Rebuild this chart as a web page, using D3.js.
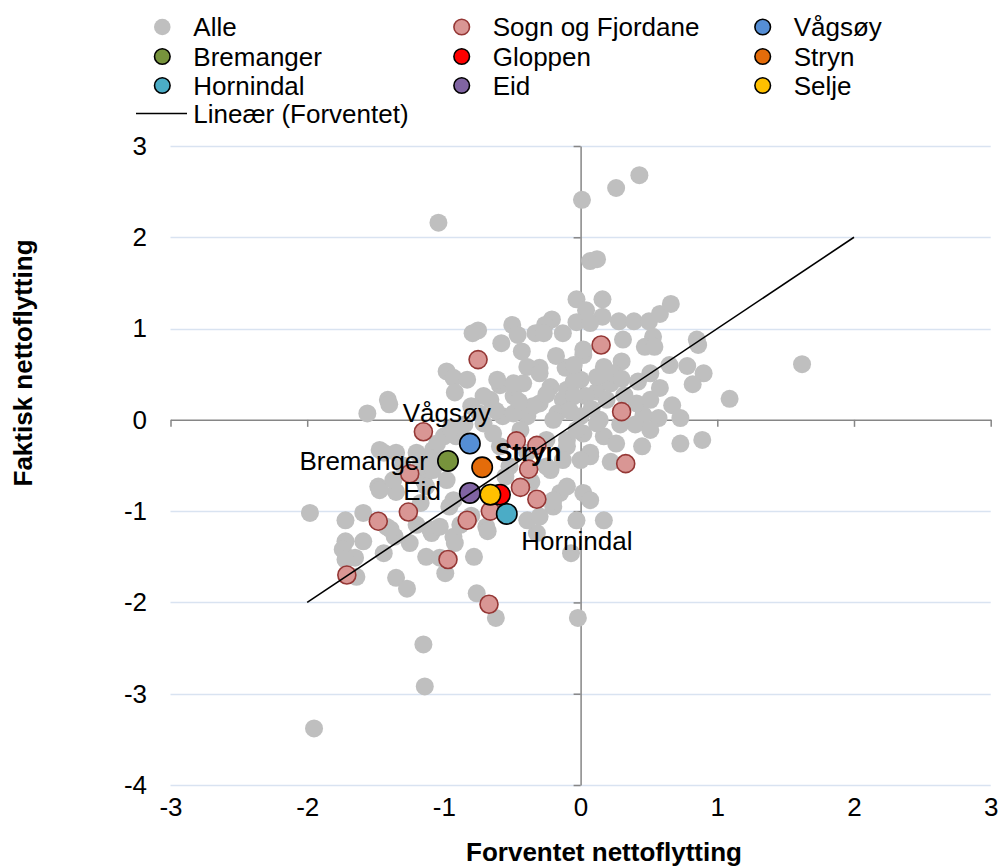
<!DOCTYPE html>
<html><head><meta charset="utf-8">
<script src="https://cdn.jsdelivr.net/npm/d3@7"></script>
<style>
body{margin:0;background:#fff;}
svg text{font-family:"Liberation Sans",Arial,sans-serif;fill:#000;}
</style></head><body>
<svg id="chart" width="998" height="866"></svg>
<script>
// ---- data ----
const allX = [-1.04,0.01,0.26,0.43,0.07,0.12,1.62,1.09,-1.95,-1.14,-1.15,-0.02,-0.62,-0.76,-1.98,-1.56,-1.41,-1.40,-0.98,-0.93,-0.07,
 -0.03,0.16,0.04,-0.03,0.16,0.28,0.39,0.50,0.58,0.66,0.53,-0.21,-0.26,-0.50,-0.33,-0.46,-0.75,-0.79,0.31,0.85,0.07,0.47,0.54,0.86,
 0.02,-0.11,0.17,0.30,0.65,0.78,0.90,0.82,0.51,0.42,0.58,0.67,0.73,0.57,0.46,0.40,0.41,0.12,0.22,0.00,-0.10,0.14,0.02,0.17,0.26,
 0.45,0.73,0.89,0.07,0.22,-0.10,-0.27,-0.58,-0.43,0.02,-0.30,-0.39,-0.83,-0.59,-0.42,-0.22,-0.05,0.12,0.24,-0.66,-0.49,-0.30,-0.13,
 0.04,0.19,-0.39,-0.17,0.00,0.12,-0.57,-0.71,-0.49,-0.20,-0.03,-0.10,0.07,0.51,-0.22,-0.15,0.02,0.07,-0.20,-0.03,0.17,-0.32,-1.10,
 -0.93,-0.78,-1.13,-0.69,-0.39,-1.44,-1.25,-0.99,-1.35,-1.27,-0.92,-1.72,-1.59,-1.74,-1.65,-1.72,-1.64,-1.36,-1.09,-1.03,-0.68,
 -1.44,-1.35,-1.48,-1.35,-1.20,-1.08,-1.00,-1.15,-1.72,-1.59,-1.42,-1.20,-1.03,-0.96,-0.13,-0.61,-0.49,-0.30,-0.71,-0.35,-0.05,
 -0.74,-1.47,-1.05,-0.91,-0.64,-0.59,-0.39,-0.25,0.00,-0.13,-0.25,-0.52,-1.17,-1.08,-1.47,-1.37,-1.13,-0.98,-0.93,-1.17,-1.39,
 -0.30,-0.20,-0.10,0.29,0.32,0.51,-0.44,-0.92,
 -1.10,-1.30,-0.80,-0.62,-0.45,-0.25,-0.08,-0.18,-0.05,0.08,0.30,-0.80,-0.88,-0.95,-0.85,-0.55,-0.36];
const allY = [2.16,2.41,2.54,2.68,1.74,1.76,0.61,0.23,-3.38,-2.92,-2.46,-2.17,-2.17,-1.90,-1.02,0.07,0.22,0.17,0.53,0.46,-1.46,
 1.32,1.32,1.20,1.07,1.13,1.08,1.08,1.08,1.16,1.27,0.91,1.10,1.04,1.04,0.95,0.93,0.98,0.95,0.88,0.88,1.06,0.80,0.80,0.82,
 0.71,0.57,0.58,0.64,0.60,0.59,0.51,0.39,0.51,0.42,0.35,0.16,0.02,0.02,0.05,-0.05,0.18,0.31,0.40,0.44,0.33,0.00,-0.15,-0.18,-0.26,
 -0.29,-0.26,-0.22,-0.40,-0.46,-0.22,0.95,0.84,0.75,0.77,0.57,0.58,0.44,0.38,0.40,0.36,0.42,0.47,0.51,0.22,0.26,0.18,0.22,
 0.26,0.22,0.04,0.07,0.04,-0.04,0.04,-0.04,0.07,0.00,-0.11,-0.29,-0.36,-0.11,-0.55,-0.80,-0.80,-0.88,-0.95,-1.10,-1.10,-1.24,-1.20,
 -1.28,-1.50,-1.50,-1.17,-1.10,-1.46,-1.35,-1.68,-1.73,-1.85,-1.35,-1.33,-1.33,-1.42,-1.51,-1.53,-1.72,-1.28,-1.24,-1.51,-1.22,
 -0.36,-0.36,-0.73,-0.79,-0.36,-0.33,-0.18,-0.66,-1.10,-1.02,-1.17,-1.15,-1.17,-0.95,0.95,0.44,0.40,0.51,0.26,0.15,0.26,
 0.07,-0.33,-0.26,-0.18,-0.15,-0.29,-0.36,-0.22,-0.44,-0.44,-0.51,-0.51,-0.51,-0.55,-0.77,-0.66,-0.73,-0.66,-0.88,-0.91,-1.20,
 -1.06,-0.88,-0.73,-0.05,0.27,0.22,-0.11,0.30,
 -0.42,-0.50,0.15,0.10,0.20,0.28,0.10,0.70,0.60,0.12,0.45,-1.05,-1.15,-0.10,-0.05,-0.62,-0.68];

const sfX = [-0.75,0.15,0.30,0.33,-1.15,-0.47,-0.32,-0.38,-0.44,-0.32,-1.25,-1.26,-1.48,-0.83,-0.66,-0.97,-1.71,-0.67];
const sfY = [0.66,0.82,0.09,-0.48,-0.13,-0.23,-0.28,-0.54,-0.74,-0.87,-0.59,-1.01,-1.11,-1.10,-1.00,-1.53,-1.70,-2.02];

const kommuner = ["Vågsøy","Bremanger","Gloppen","Stryn","Hornindal","Eid","Selje"];
const kommuneX = [-0.81,-0.97,-0.59,-0.72,-0.54,-0.81,-0.66];
const kommuneY = [-0.26,-0.45,-0.82,-0.52,-1.03,-0.80,-0.82];
const kommuneColors = ["#558ED5","#77933C","#FF0000","#E46C0A","#4BACC6","#8064A2","#FFC000"];

const legendLabels = ["Alle","Sogn og Fjordane","Vågsøy","Bremanger","Gloppen","Stryn","Hornindal","Eid","Selje"];
const trendLabel = "Lineær (Forventet)";
const trendX = [-2, 2];
const trendY = [-2, 2];

const xTicks = [-3,-2,-1,0,1,2,3];
const yTicks = [-4,-3,-2,-1,0,1,2,3];
const xTitle = "Forventet nettoflytting";
const yTitle = "Faktisk nettoflytting";

// ---- drawing ----
const svg = d3.select("#chart");
const FS = 26;
const axisColor = "#868686";
const gridColor = "#d9e3f1";

const x = d3.scaleLinear().domain([-3,3]).range([170.5,990.7]);
const y = d3.scaleLinear().domain([-4,3]).range([785,146]);
const fmt = d => d < 0 ? "-" + Math.abs(d) : String(d);

// gridlines
svg.append("g").selectAll("line").data(yTicks.filter(d => d !== 0)).join("line")
  .attr("x1", x(-3)).attr("x2", x(3))
  .attr("y1", d => Math.round(y(d)) + 0.5).attr("y2", d => Math.round(y(d)) + 0.5)
  .attr("stroke", gridColor).attr("stroke-width", 1.5);

// axes lines crossing at 0
const styleAxis = g => {
  g.select(".domain").attr("stroke", axisColor).attr("stroke-width", 1.5);
  g.selectAll(".tick line").attr("stroke", axisColor).attr("stroke-width", 1.5);
};
svg.append("g").attr("transform", `translate(0,${y(0)})`)
  .call(d3.axisBottom(x).tickValues(xTicks).tickSize(7).tickSizeOuter(0).tickFormat(""))
  .call(styleAxis);
svg.append("g").attr("transform", `translate(${x(0)},0)`)
  .call(d3.axisLeft(y).tickValues(yTicks).tickSize(7).tickSizeOuter(0).tickFormat(""))
  .call(styleAxis);

// tick labels
const xl = svg.append("g").attr("transform", `translate(0,${y(-4)})`)
  .call(d3.axisBottom(x).tickValues(xTicks).tickSize(0).tickPadding(13).tickFormat(fmt));
xl.select(".domain").remove();
xl.selectAll("text").attr("font-size", FS).attr("font-family", "Liberation Sans, Arial, sans-serif").attr("fill", "#000");
const yl = svg.append("g").attr("transform", `translate(${x(-3)},0)`)
  .call(d3.axisLeft(y).tickValues(yTicks).tickSize(0).tickPadding(23.5).tickFormat(fmt));
yl.select(".domain").remove();
yl.selectAll("text").attr("font-size", FS).attr("font-family", "Liberation Sans, Arial, sans-serif").attr("fill", "#000");

// axis titles
svg.append("text").attr("x", 604).attr("y", 861).attr("text-anchor", "middle")
  .attr("font-size", FS).attr("font-weight", "bold").text(xTitle);
svg.append("text").attr("transform", "translate(32,363) rotate(-90)").attr("text-anchor", "middle")
  .attr("font-size", FS).attr("font-weight", "bold").text(yTitle);

// points: Alle
svg.append("g").selectAll("circle").data(allX.map((v,i) => [v, allY[i]])).join("circle")
  .attr("cx", d => x(d[0])).attr("cy", d => y(d[1])).attr("r", 9)
  .attr("fill", "#bfbfbf");

// Sogn og Fjordane
svg.append("g").selectAll("circle").data(sfX.map((v,i) => [v, sfY[i]])).join("circle")
  .attr("cx", d => x(d[0])).attr("cy", d => y(d[1])).attr("r", 9)
  .attr("fill", "#d99694").attr("stroke", "#953735").attr("stroke-width", 1.6);

// highlighted municipalities
const kom = kommuner.map((n,i) => ({name:n, x:kommuneX[i], y:kommuneY[i], color:kommuneColors[i]}));
svg.append("g").selectAll("circle").data(kom).join("circle")
  .attr("cx", d => x(d.x)).attr("cy", d => y(d.y)).attr("r", 10.2)
  .attr("fill", d => d.color).attr("stroke", "#000").attr("stroke-width", 1.6);

// trend line
svg.append("path")
  .datum(trendX.map((v,i) => [v, trendY[i]]))
  .attr("d", d3.line().x(d => x(d[0])).y(d => y(d[1])))
  .attr("stroke", "#000").attr("stroke-width", 1.6).attr("fill", "none");

// point labels
const labelSpec = {
  "Vågsøy":   {dx:-23,  dy:-21.5, anchor:"middle", weight:"normal"},
  "Bremanger":{dx:-20,  dy:9,     anchor:"end",    weight:"normal"},
  "Stryn":    {dx:12.7, dy:-6.6,  anchor:"start",  weight:"bold"},
  "Eid":      {dx:-29,  dy:7.3,   anchor:"end",    weight:"normal"},
  "Hornindal":{dx:14.4, dy:36,    anchor:"start",  weight:"normal"}
};
svg.append("g").selectAll("text").data(kom.filter(d => labelSpec[d.name])).join("text")
  .attr("x", d => x(d.x) + labelSpec[d.name].dx)
  .attr("y", d => y(d.y) + labelSpec[d.name].dy)
  .attr("text-anchor", d => labelSpec[d.name].anchor)
  .attr("font-weight", d => labelSpec[d.name].weight)
  .attr("font-size", FS).text(d => d.name);

// legend
const legendFill = ["#bfbfbf","#d99694"].concat(kommuneColors);
const legendStroke = ["none","#953735"].concat(kommuneColors.map(() => "#000"));
const colX = [162.3, 461.7, 762.7];
const rowY = [27, 56.5, 85.5, 113.5];
const leg = svg.append("g");
const items = leg.selectAll("g").data(legendLabels).join("g")
  .attr("transform", (d,i) => `translate(${colX[i % 3]},${rowY[Math.floor(i / 3)]})`);
items.append("circle").attr("r", (d,i) => i === 0 ? 8.3 : 7.8)
  .attr("fill", (d,i) => legendFill[i]).attr("stroke", (d,i) => legendStroke[i]).attr("stroke-width", 1.6);
items.append("text").attr("x", 31).attr("dy", "0.35em").attr("font-size", FS).text(d => d);
const tl = leg.append("g").attr("transform", `translate(0,${rowY[3]})`);
tl.append("line").attr("x1", 136).attr("x2", 187).attr("y1", 0).attr("y2", 0).attr("stroke", "#000").attr("stroke-width", 1.6);
tl.append("text").attr("x", 193.3).attr("dy", "0.35em").attr("font-size", FS).text(trendLabel);
</script>
</body></html>
